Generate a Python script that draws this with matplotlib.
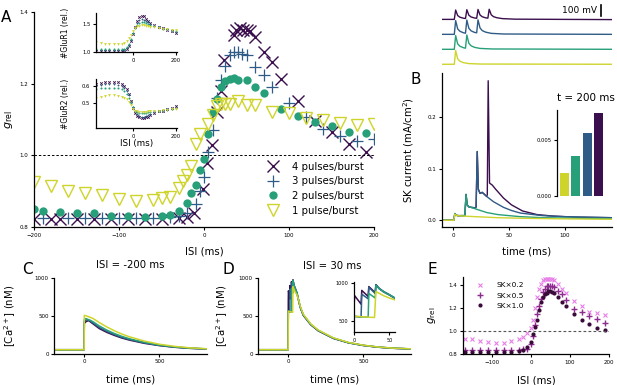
import numpy as np
import matplotlib.pyplot as plt

W, H = 617, 385

# colours (4, 3, 2, 1 pulses/burst)
c4, c3, c2, c1 = '#3b0f4e', '#2f5c87', '#27a07a', '#cfd42c'
e_cols = ['#e67fe6', '#8e2b8e', '#3a0a3a']

# ---------------- panel A: g_rel vs ISI ----------------
isi4 = [-200, -180, -170, -150, -130, -110, -90, -70, -50, -30, -20, -12, -1, 3, 9, 15, 20, 24,
        35, 38, 42, 46, 50, 54, 60, 70, 80, 90, 110, 130, 150, 170, 190]
g4 = [0.823, 0.823, 0.823, 0.822, 0.822, 0.822, 0.822, 0.822, 0.822, 0.825, 0.828, 0.84, 0.905,
      0.98, 1.03, 1.12, 1.18, 1.265, 1.336, 1.35, 1.355, 1.35, 1.35, 1.346, 1.33, 1.287, 1.26,
      1.214, 1.153, 1.097, 1.064, 1.031, 1.008]
isi3 = [-190, -160, -140, -120, -100, -80, -60, -40, -30, -20, -10, -5, 0, 5, 10, 15, 20, 25,
        30, 35, 40, 45, 50, 60, 70, 80, 100, 120, 140, 160, 180, 200]
g3 = [0.825, 0.826, 0.826, 0.825, 0.825, 0.825, 0.826, 0.827, 0.832, 0.84, 0.865, 0.9, 0.94,
      1.01, 1.07, 1.16, 1.21, 1.248, 1.28, 1.289, 1.289, 1.284, 1.28, 1.247, 1.223, 1.19, 1.146,
      1.106, 1.073, 1.054, 1.04, 1.045]
isi2 = [-200, -190, -170, -150, -130, -110, -90, -70, -50, -40, -30, -20, -15, -10, -5, 0, 5,
        10, 15, 20, 25, 30, 35, 40, 50, 60, 70, 90, 110, 130, 150, 170, 190]
g2 = [0.851, 0.846, 0.843, 0.84, 0.839, 0.832, 0.831, 0.829, 0.831, 0.834, 0.846, 0.867, 0.895,
      0.918, 0.959, 0.989, 1.059, 1.12, 1.158, 1.19, 1.207, 1.213, 1.216, 1.211, 1.211, 1.192,
      1.175, 1.13, 1.111, 1.092, 1.081, 1.066, 1.061]
isi1 = [-200, -180, -160, -140, -120, -100, -80, -60, -50, -40, -30, -25, -20, -15, -10, -5, 5,
        10, 15, 20, 25, 30, 40, 50, 60, 80, 100, 120, 140, 160, 180, 200]
g1 = [0.925, 0.915, 0.901, 0.895, 0.89, 0.878, 0.873, 0.876, 0.881, 0.885, 0.909, 0.928, 0.946,
      0.97, 1.031, 1.059, 1.087, 1.113, 1.139, 1.144, 1.144, 1.144, 1.153, 1.141, 1.141, 1.122,
      1.117, 1.104, 1.099, 1.09, 1.084, 1.087]

# insets: receptor numbers
isi_in = [-170, -150, -130, -110, -90, -70, -50, -40, -30, -20, -10, 0, 10, 20, 30, 40, 50, 60,
          70, 80, 100, 120, 140, 160, 180, 200]
glur1_4 = [1.02, 1.02, 1.02, 1.02, 1.02, 1.02, 1.02, 1.03, 1.05, 1.1, 1.2, 1.33, 1.45, 1.55, 1.62,
           1.65, 1.64, 1.6, 1.56, 1.52, 1.48, 1.45, 1.43, 1.4, 1.37, 1.35]
glur1_3 = [1.03, 1.03, 1.03, 1.03, 1.03, 1.03, 1.03, 1.04, 1.07, 1.12, 1.22, 1.34, 1.44, 1.52, 1.57,
           1.59, 1.58, 1.56, 1.53, 1.5, 1.47, 1.45, 1.43, 1.41, 1.38, 1.36]
glur1_2 = [1.05, 1.05, 1.05, 1.05, 1.05, 1.05, 1.05, 1.06, 1.09, 1.15, 1.24, 1.35, 1.43, 1.49, 1.52,
           1.53, 1.53, 1.52, 1.5, 1.48, 1.46, 1.44, 1.42, 1.41, 1.39, 1.38]
glur1_1 = [1.18, 1.17, 1.15, 1.14, 1.14, 1.14, 1.15, 1.17, 1.2, 1.25, 1.31, 1.38, 1.43, 1.46, 1.47,
           1.48, 1.48, 1.47, 1.46, 1.45, 1.44, 1.43, 1.42, 1.41, 1.4, 1.4]
glur2_4 = [0.61, 0.615, 0.62, 0.625, 0.625, 0.62, 0.61, 0.6, 0.58, 0.55, 0.51, 0.47, 0.44, 0.425,
           0.415, 0.41, 0.41, 0.415, 0.42, 0.43, 0.44, 0.45, 0.455, 0.465, 0.47, 0.48]
glur2_3 = [0.6, 0.605, 0.61, 0.61, 0.61, 0.605, 0.6, 0.59, 0.57, 0.545, 0.51, 0.475, 0.45, 0.435,
           0.425, 0.42, 0.42, 0.425, 0.43, 0.435, 0.445, 0.45, 0.455, 0.46, 0.465, 0.47]
glur2_2 = [0.58, 0.585, 0.59, 0.59, 0.59, 0.585, 0.58, 0.57, 0.555, 0.53, 0.5, 0.475, 0.455, 0.445,
           0.44, 0.44, 0.44, 0.44, 0.445, 0.445, 0.45, 0.455, 0.46, 0.465, 0.465, 0.47]
glur2_1 = [0.53, 0.535, 0.54, 0.545, 0.545, 0.54, 0.535, 0.53, 0.52, 0.505, 0.485, 0.465, 0.455,
           0.45, 0.445, 0.445, 0.445, 0.445, 0.45, 0.45, 0.455, 0.455, 0.46, 0.46, 0.465, 0.465]

# ---------------- panel B: voltage and SK current ----------------
v1_t = [-10, 1, 2.2, 4, 6, 9, 14, 25, 142]
v1 = [0, 0, 125, 50, 28, 15, 6, 2, 0]
v2_t = [-10, 1, 2.2, 4, 6, 9, 11, 12.2, 14, 16, 19, 24, 35, 142]
v2 = [0, 0, 125, 50, 28, 15, 10, 130, 55, 32, 18, 8, 3, 0]
v3_t = [-10, 1, 2.2, 4, 6, 9, 11, 12.2, 14, 16, 19, 21, 22.2, 24, 26, 29, 34, 45, 142]
v3 = [0, 0, 125, 50, 28, 15, 10, 130, 55, 32, 18, 14, 132, 58, 34, 20, 9, 3, 0]
v4_t = [-10, 1, 2.2, 4, 6, 9, 11, 12.2, 14, 16, 19, 21, 22.2, 24, 26, 29, 31, 32.2, 34, 36, 39,
        44, 55, 142]
v4 = [0, 0, 85, 35, 20, 11, 8, 88, 38, 22, 13, 10, 90, 40, 24, 14, 11, 92, 42, 25, 15, 7, 2, -2]
v_offsets = [0, 136, 272, 408]

sk1_t = [-10, 0.5, 1.5, 2.5, 4, 10, 20, 40, 60, 90, 142]
sk1 = [0, 0, 0.012, 0.010, 0.009, 0.008, 0.007, 0.005, 0.004, 0.003, 0.002]
sk2_t = [-10, 0.5, 1.5, 2.5, 4, 10, 10.5, 11.5, 12.5, 14, 16, 20, 30, 40, 60, 80, 110, 142]
sk2 = [0, 0, 0.013, 0.010, 0.009, 0.009, 0.01, 0.05, 0.03, 0.026, 0.025, 0.022, 0.015, 0.011,
       0.007, 0.005, 0.004, 0.003]
sk3_t = [-10, 0.5, 1.5, 2.5, 4, 10, 10.5, 11.5, 12.5, 14, 16, 20, 20.5, 21.5, 22.5, 24, 26, 30,
         36, 45, 52, 60, 80, 100, 142]
sk3 = [0, 0, 0.013, 0.010, 0.009, 0.009, 0.01, 0.05, 0.03, 0.026, 0.025, 0.024, 0.026, 0.133,
       0.06, 0.052, 0.054, 0.046, 0.036, 0.025, 0.019, 0.014, 0.009, 0.007, 0.005]
sk4_t = [-10, 0.5, 1.5, 2.5, 4, 10, 10.5, 11.5, 12.5, 14, 16, 20, 20.5, 21.5, 22.5, 24, 26, 30,
         30.5, 31.3, 32.5, 35, 38, 45, 52, 62, 75, 90, 110, 142]
sk4 = [0, 0, 0.013, 0.010, 0.009, 0.009, 0.01, 0.05, 0.03, 0.026, 0.025, 0.024, 0.026, 0.133,
       0.06, 0.052, 0.054, 0.046, 0.05, 0.27, 0.072, 0.068, 0.06, 0.043, 0.03, 0.018, 0.011,
       0.008, 0.006, 0.005]

bar_vals = [0.0021, 0.0036, 0.0056, 0.0074]

# ---------------- panels C, D: calcium ----------------
ca_c_t = [-200, -1, 0, 10, 20, 30, 40, 60, 100, 150, 200, 250, 300, 400, 500, 600, 700, 820]
ca_c4 = [50, 50, 400, 420, 430, 435, 420, 390, 330, 280, 240, 205, 178, 135, 105, 83, 69, 59]
ca_c3 = [50, 50, 420, 440, 448, 440, 430, 402, 345, 292, 250, 214, 185, 140, 108, 85, 70, 60]
ca_c2 = [50, 50, 450, 462, 455, 447, 440, 418, 365, 310, 265, 227, 196, 148, 112, 88, 72, 61]
ca_c1 = [50, 50, 505, 500, 493, 486, 479, 462, 410, 352, 302, 258, 222, 165, 123, 95, 76, 62]

ca_d4_t = [-200, -1, 0, 1, 10, 11, 20, 21, 30, 31, 36, 42, 50, 58, 70, 80, 100, 150, 200, 300,
           400, 500, 600, 700, 820]
ca_d4 = [50, 50, 700, 830, 720, 900, 820, 950, 870, 975, 920, 880, 840, 795, 690, 610, 505, 380,
         300, 200, 142, 106, 83, 69, 60]
ca_d3_t = [-200, -1, 0, 10, 11, 20, 21, 30, 31, 36, 42, 50, 58, 70, 80, 100, 150, 200, 300, 400,
           500, 600, 700, 820]
ca_d3 = [50, 50, 560, 550, 850, 790, 940, 860, 975, 925, 885, 845, 800, 692, 612, 508, 383, 302,
         202, 143, 107, 84, 70, 60]
ca_d2_t = [-200, -1, 0, 20, 21, 30, 31, 36, 42, 50, 58, 70, 80, 100, 150, 200, 300, 400, 500, 600,
           700, 820]
ca_d2 = [50, 50, 560, 548, 860, 800, 965, 920, 880, 842, 800, 694, 615, 512, 386, 305, 204, 144,
         108, 85, 70, 61]
ca_d1_t = [-200, -1, 0, 29, 31, 36, 42, 50, 58, 70, 80, 100, 150, 200, 300, 400, 500, 600, 700,
           820]
ca_d1 = [50, 50, 560, 545, 885, 860, 830, 800, 775, 700, 625, 520, 392, 310, 208, 147, 110, 86,
         71, 62]

# ---------------- panel E: SK scaling ----------------
isi_e = [-170, -150, -130, -110, -90, -70, -50, -30, -20, -10, 0, 5, 10, 15, 20, 25, 30, 35, 40,
         45, 50, 55, 60, 70, 80, 90, 110, 130, 150, 170, 190]
g_sk02 = [0.931, 0.931, 0.917, 0.91, 0.9, 0.9, 0.917, 0.929, 0.95, 0.985, 1.03, 1.1, 1.2, 1.3,
          1.37, 1.41, 1.44, 1.45, 1.455, 1.455, 1.455, 1.45, 1.44, 1.41, 1.37, 1.33, 1.266, 1.22,
          1.17, 1.157, 1.137]
g_sk05 = [0.837, 0.837, 0.837, 0.837, 0.837, 0.837, 0.837, 0.838, 0.845, 0.85, 0.89, 0.96, 1.05,
          1.15, 1.22, 1.28, 1.34, 1.37, 1.39, 1.395, 1.395, 1.39, 1.38, 1.35, 1.32, 1.27, 1.194,
          1.165, 1.131, 1.108, 1.074]
g_sk10 = [0.822, 0.822, 0.822, 0.822, 0.822, 0.822, 0.822, 0.825, 0.836, 0.865, 0.91, 0.98, 1.037,
          1.095, 1.18, 1.25, 1.3, 1.32, 1.335, 1.345, 1.345, 1.342, 1.335, 1.295, 1.25, 1.222,
          1.151, 1.094, 1.066, 1.031, 1.008]


def box(x0, y0, x1, y1):
    return [x0 / W, 1 - y1 / H, (x1 - x0) / W, (y1 - y0) / H]


def style(ax, fs=4):
    ax.spines['top'].set_visible(False)
    ax.spines['right'].set_visible(False)
    ax.spines['left'].set_linewidth(0.9)
    ax.spines['bottom'].set_linewidth(0.9)
    ax.tick_params(labelsize=fs, length=2.5, width=0.8, pad=1.5)


def ftext(x, y, s, **kw):
    fig.text(x / W, 1 - y / H, s, **kw)


fig = plt.figure(figsize=(W / 100, H / 100), dpi=100)

# A main
axA = fig.add_axes(box(34, 12, 374, 227))
style(axA)
axA.plot(isi4, g4, 'x', color=c4, ms=8, mew=1.0, label='4 pulses/burst')
axA.plot(isi3, g3, '+', color=c3, ms=8, mew=0.9, label='3 pulses/burst')
axA.plot(isi2, g2, 'o', color=c2, ms=6, mec='none', label='2 pulses/burst')
axA.plot(isi1, g1, 'v', color=c1, ms=8, mfc='none', mew=1.0, label='1 pulse/burst')
axA.axhline(1.0, color='k', ls='--', lw=0.7, dashes=(2.5, 2))
axA.set_xlim(-200, 200)
axA.set_ylim(0.8, 1.4)
axA.set_xticks([-200, -100, 0, 100, 200])
axA.set_yticks([0.8, 1.0, 1.2, 1.4])
axA.set_yticklabels(['0.8', '1.0', '1.2', '1.4'])
axA.set_xlabel('ISI (ms)', fontsize=7.3)
axA.xaxis.set_label_coords(0.5, -0.09)
axA.set_ylabel(r'$g_{\rm rel}$', fontsize=8)
axA.yaxis.set_label_coords(-0.055, 0.5)
axA.legend(loc='lower right', bbox_to_anchor=(0.99, 0.02), frameon=False, fontsize=7.3,
           handletextpad=0.8, labelspacing=0.45, borderpad=0.2)

# A insets
for box_px, series, ylim, yt, ylab in [
        ((96, 13, 177, 52), [glur1_4, glur1_3, glur1_2, glur1_1], (1.0, 1.70), [1.0, 1.5],
         '#GluR1 (rel.)'),
        ((96, 79, 177, 128), [glur2_4, glur2_3, glur2_2, glur2_1], (0.353, 0.64), [0.5, 0.6],
         '#GluR2 (rel.)')]:
    ax = fig.add_axes(box(*box_px))
    style(ax, 3.8)
    ax.plot(isi_in, series[0], 'x', color=c4, ms=1.8, mew=0.6)
    ax.plot(isi_in, series[1], '+', color=c3, ms=2, mew=0.6)
    ax.plot(isi_in, series[2], 'o', color=c2, ms=1.5, mec='none')
    ax.plot(isi_in, series[3], 'v', color=c1, ms=2, mec='none')
    ax.set_xlim(-172, 205)
    ax.set_ylim(*ylim)
    ax.set_xticks([0, 200])
    ax.set_yticks(yt)
    ax.set_yticklabels(['%.1f' % v for v in yt])
    ax.set_ylabel(ylab, fontsize=5.5)
    ax.yaxis.set_label_coords(-0.32, 0.5)
    last = ax
last.set_xlabel('ISI (ms)', fontsize=6.3)
last.xaxis.set_label_coords(0.5, -0.22)

# B voltage traces
axV = fig.add_axes(box(442, 2, 612, 68))
axV.axis('off')
for t, v, off, col in [(v4_t, v4, v_offsets[3], c4), (v3_t, v3, v_offsets[2], c3),
                       (v2_t, v2, v_offsets[1], c2), (v1_t, v1, v_offsets[0], c1)]:
    axV.plot(t, np.array(v) + off, color=col, lw=1.0)
axV.plot([132, 132], [440, 540], color='k', lw=1.2)
axV.text(129, 492, '100 mV', ha='right', va='center', fontsize=6.5)
axV.set_xlim(-10, 142)
axV.set_ylim(-34, 566)

# B SK current
axB = fig.add_axes(box(442, 73, 612, 227))
style(axB)
for t, v, col in [(sk4_t, sk4, c4), (sk3_t, sk3, c3), (sk2_t, sk2, c2), (sk1_t, sk1, c1)]:
    axB.plot(t, v, color=col, lw=1.0)
axB.set_xlim(-10, 142)
axB.set_ylim(-0.013, 0.285)
axB.set_xticks([0, 50, 100])
axB.set_yticks([0.0, 0.1, 0.2])
axB.set_yticklabels(['0.0', '0.1', '0.2'])
axB.set_xlabel('time (ms)', fontsize=7.3)
axB.xaxis.set_label_coords(0.5, -0.125)
axB.set_ylabel(r'SK current (mA/cm$^2$)', fontsize=7.3)
axB.yaxis.set_label_coords(-0.155, 0.5)

axBar = fig.add_axes(box(557, 110, 605, 196))
style(axBar, 3.8)
axBar.bar(range(4), bar_vals, width=0.8, color=[c1, c2, c3, c4])
axBar.spines['bottom'].set_visible(False)
axBar.set_xticks([])
axBar.set_xlim(-0.66, 3.58)
axBar.set_ylim(0, 0.0077)
axBar.set_yticks([0.0, 0.005])
axBar.set_yticklabels(['0.000', '0.005'])
ftext(586, 98, 't = 200 ms', ha='center', va='center', fontsize=7.5)

# C
axC = fig.add_axes(box(54.3, 278, 207.3, 353.5))
style(axC)
for t, v, col in [(ca_c_t, ca_c4, c4), (ca_c_t, ca_c3, c3), (ca_c_t, ca_c2, c2),
                  (ca_c_t, ca_c1, c1)]:
    axC.plot(t, v, color=col, lw=1.1)

# D
axD = fig.add_axes(box(258.3, 278, 411.3, 353.5))
style(axD)
axDi = fig.add_axes(box(354, 282, 395, 332))
style(axDi, 3.6)
for ax in (axD, axDi):
    for t, v, col in [(ca_d4_t, ca_d4, c4), (ca_d3_t, ca_d3, c3), (ca_d2_t, ca_d2, c2),
                      (ca_d1_t, ca_d1, c1)]:
        ax.plot(t, v, color=col, lw=1.1)
axDi.set_xlim(0, 58)
axDi.set_ylim(355, 1010)
axDi.set_xticks([0, 50])
axDi.set_yticks([500, 1000])

for ax, ylx in [(axC, -0.237), (axD, -0.185)]:
    ax.set_xlim(-200, 820)
    ax.set_ylim(0, 1000)
    ax.set_xticks([0, 500])
    ax.set_yticks([0, 500, 1000])
    ax.set_xlabel('time (ms)', fontsize=7.3)
    ax.xaxis.set_label_coords(0.5, -0.28)
    ax.set_ylabel(r'[Ca$^{2+}$] (nM)', fontsize=7.3)
    ax.yaxis.set_label_coords(ylx, 0.5)
ftext(130, 265, 'ISI = -200 ms', ha='center', va='center', fontsize=7.3)
ftext(332, 266, 'ISI = 30 ms', ha='center', va='center', fontsize=7.3)

# E
axE = fig.add_axes(box(463, 277, 609, 354.3))
style(axE)
axE.plot(isi_e, g_sk02, 'x', color=e_cols[0], ms=3.5, mew=0.8, label='SK×0.2')
axE.plot(isi_e, g_sk05, '+', color=e_cols[1], ms=4, mew=1.0, label='SK×0.5')
axE.plot(isi_e, g_sk10, 'o', color=e_cols[2], ms=3, mec='none', label='SK×1.0')
axE.axhline(1.0, color='#555555', ls='--', lw=0.8, dashes=(2.5, 2))
axE.set_xlim(-174, 200)
axE.set_ylim(0.8, 1.47)
axE.set_xticks([-100, 0, 100, 200])
axE.set_yticks([0.8, 1.0, 1.2, 1.4])
axE.set_yticklabels(['0.8', '1.0', '1.2', '1.4'])
axE.set_xlabel('ISI (ms)', fontsize=7.3)
axE.xaxis.set_label_coords(0.5, -0.27)
axE.set_ylabel(r'$g_{\rm rel}$', fontsize=7.5)
axE.yaxis.set_label_coords(-0.17, 0.5)
axE.legend(loc='upper left', bbox_to_anchor=(0.03, 1.0), frameon=False, fontsize=5.3,
           handletextpad=1.2, labelspacing=0.55, borderpad=0.2)

# panel letters
for x, y, s in [(6, 18, 'A'), (416, 79, 'B'), (27, 270, 'C'), (228, 270, 'D'), (432, 269, 'E')]:
    ftext(x, y, s, ha='center', va='center', fontsize=11)

fig.savefig('out.png', dpi=100)
